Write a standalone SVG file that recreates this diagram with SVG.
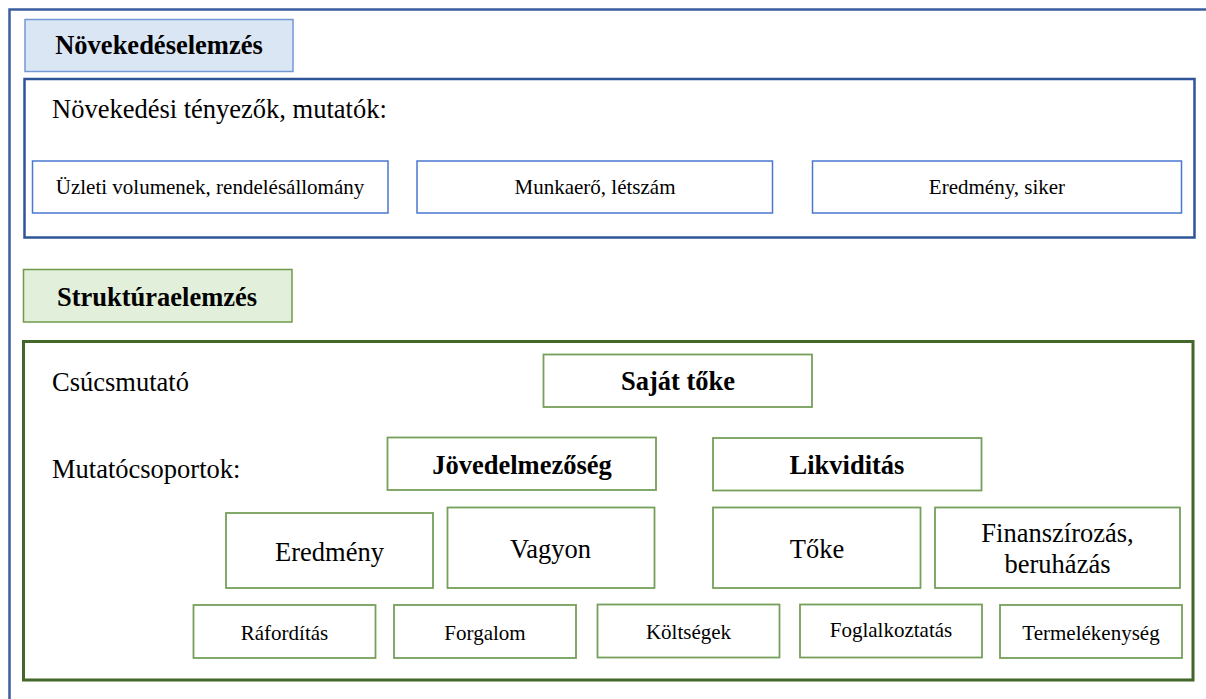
<svg xmlns="http://www.w3.org/2000/svg" width="1206" height="699" viewBox="0 0 1206 699" font-family="'Liberation Serif', 'DejaVu Serif', serif">
  <style>
    text { font-family: 'Liberation Serif', 'DejaVu Serif', serif; fill: #000; }
    .big { font-size: 26.5px; }
    .small { font-size: 21px; }
    .bold { font-weight: bold; }
    .mid { text-anchor: middle; }
    .blueItem { fill: #fff; stroke: #4a78d0; stroke-width: 1.5; }
    .greenItem { fill: #fff; stroke: #76a05a; stroke-width: 1.8; }
  </style>
  <rect width="1206" height="699" fill="#fff"/>

  <!-- page frame, open towards right and bottom -->
  <g id="frame">
    <path d="M9.5 699 V9.5 H1206" fill="none" stroke="#3a5e9f" stroke-width="2.5"/>
  </g>

  <!-- growth analysis -->
  <g id="growth-header">
    <rect x="25" y="19.5" width="268" height="52" fill="#dbe6f4" stroke="#7498d4" stroke-width="1.5"/>
    <text x="159" y="54" class="big bold mid">Növekedéselemzés</text>
  </g>
  <g id="growth-panel">
    <rect x="24.5" y="79" width="1170" height="158.5" fill="none" stroke="#2e5597" stroke-width="2.5"/>
    <text x="52" y="118" class="big">Növekedési tényezők, mutatók:</text>
  </g>
  <g id="node-volumen">
    <rect x="32.5" y="161" width="355.5" height="52" class="blueItem"/>
    <text x="210" y="194" class="small mid">Üzleti volumenek, rendelésállomány</text>
  </g>
  <g id="node-munkaero">
    <rect x="417" y="161" width="355.5" height="52" class="blueItem"/>
    <text x="595" y="194" class="small mid">Munkaerő, létszám</text>
  </g>
  <g id="node-eredmeny-siker">
    <rect x="812.5" y="161" width="369" height="52" class="blueItem"/>
    <text x="997" y="194" class="small mid">Eredmény, siker</text>
  </g>

  <!-- structure analysis -->
  <g id="structure-header">
    <rect x="23.5" y="269.5" width="268.5" height="52.5" fill="#e2efda" stroke="#6f9a4c" stroke-width="1.5"/>
    <text x="157" y="306" class="big bold mid">Struktúraelemzés</text>
  </g>
  <g id="structure-panel">
    <rect x="23.5" y="341.5" width="1169.5" height="338.5" fill="none" stroke="#43662b" stroke-width="3"/>
    <text x="52" y="391" class="big">Csúcsmutató</text>
    <text x="52" y="478" class="big">Mutatócsoportok:</text>
  </g>

  <g id="node-sajat-toke">
    <rect x="543.5" y="354.5" width="268.5" height="52.5" class="greenItem"/>
    <text x="678" y="390" class="big bold mid">Saját tőke</text>
  </g>
  <g id="node-jovedelmezoseg">
    <rect x="387.5" y="437.5" width="268.5" height="52.5" class="greenItem"/>
    <text x="522" y="474" class="big bold mid">Jövedelmezőség</text>
  </g>
  <g id="node-likviditas">
    <rect x="713" y="438" width="268.5" height="52.5" class="greenItem"/>
    <text x="847" y="474" class="big bold mid">Likviditás</text>
  </g>

  <g id="node-eredmeny">
    <rect x="226" y="513" width="207" height="75" class="greenItem"/>
    <text x="329.5" y="561" class="big mid">Eredmény</text>
  </g>
  <g id="node-vagyon">
    <rect x="447.5" y="507.5" width="207" height="80.5" class="greenItem"/>
    <text x="550.5" y="558" class="big mid">Vagyon</text>
  </g>
  <g id="node-toke">
    <rect x="713" y="507.5" width="207.5" height="80.5" class="greenItem"/>
    <text x="817" y="558" class="big mid">Tőke</text>
  </g>
  <g id="node-finanszirozas">
    <rect x="935" y="507.5" width="245" height="80.5" class="greenItem"/>
    <text x="1057.5" y="542" class="big mid">Finanszírozás,</text>
    <text x="1057.5" y="573" class="big mid">beruházás</text>
  </g>

  <g id="node-raforditas">
    <rect x="193.5" y="605" width="182" height="53" class="greenItem"/>
    <text x="284.5" y="640" class="small mid">Ráfordítás</text>
  </g>
  <g id="node-forgalom">
    <rect x="394" y="605" width="182" height="53" class="greenItem"/>
    <text x="485" y="640" class="small mid">Forgalom</text>
  </g>
  <g id="node-koltsegek">
    <rect x="597.5" y="604.5" width="182" height="53" class="greenItem"/>
    <text x="688.5" y="639" class="small mid">Költségek</text>
  </g>
  <g id="node-foglalkoztatas">
    <rect x="800" y="604.5" width="182" height="53" class="greenItem"/>
    <text x="891" y="637" class="small mid">Foglalkoztatás</text>
  </g>
  <g id="node-termelekenyseg">
    <rect x="1000" y="605" width="182" height="53" class="greenItem"/>
    <text x="1091" y="640" class="small mid">Termelékenység</text>
  </g>

  <!-- no connectors are drawn between the boxes -->
  <g id="connectors"/>
</svg>
